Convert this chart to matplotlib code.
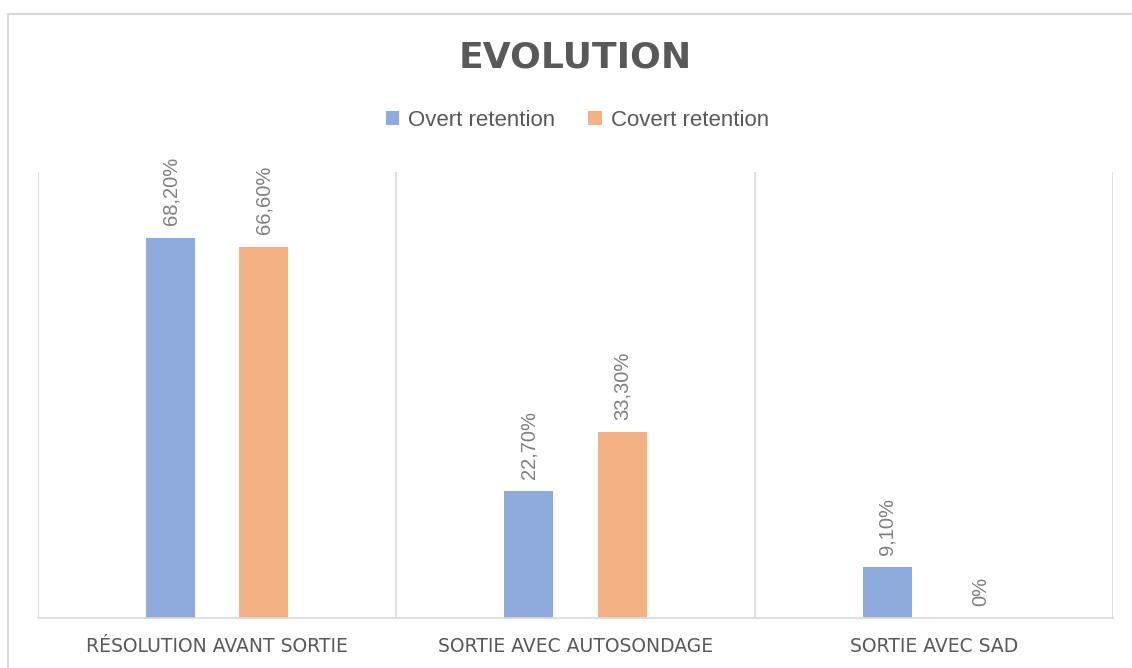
import numpy as np
import matplotlib.pyplot as plt
from matplotlib.lines import Line2D

categories = ["RÉSOLUTION AVANT SORTIE", "SORTIE AVEC AUTOSONDAGE", "SORTIE AVEC SAD"]
overt = [68.2, 22.7, 9.1]
covert = [66.6, 33.3, 0.0]
overt_labels = ["68,20%", "22,70%", "9,10%"]
covert_labels = ["66,60%", "33,30%", "0%"]

blue = "#8faadc"
orange = "#f4b183"
grid_c = "#d9d9d9"
text_c = "#595959"
label_c = "#7f7f7f"

plt.rcParams['font.family'] = ['Liberation Sans', 'DejaVu Sans']

fig = plt.figure(figsize=(11.32, 6.68), dpi=100)
ax = fig.add_axes([38 / 1132, 1 - 618 / 668, 1075 / 1132, 446 / 668])

x = np.arange(len(categories))
w = 0.137
off = 0.13
b1 = ax.bar(x - off, overt, w, color=blue, label="Overt retention")
b2 = ax.bar(x + off, covert, w, color=orange, label="Covert retention")

for bars, labs in ((b1, overt_labels), (b2, covert_labels)):
    for rect, lab in zip(bars, labs):
        ax.annotate(lab, (rect.get_x() + rect.get_width() / 2, rect.get_height()),
                    xytext=(0, 9), textcoords="offset points", rotation=90,
                    ha="center", va="bottom", fontsize=14.5, color=label_c)

ax.set_xlim(-0.5, 2.5)
ax.set_ylim(0, 80)
ax.set_yticks([])
ax.set_xticks(x)
ax.set_xticklabels(categories, fontsize=13.5, color=text_c, family="DejaVu Sans")
ax.tick_params(axis="x", length=0, pad=14)
for xs in [-0.5, 0.5, 1.5, 2.5]:
    ax.axvline(xs, color=grid_c, lw=1.2, zorder=0)
for s in ["top", "left", "right"]:
    ax.spines[s].set_visible(False)
ax.spines["bottom"].set_color(grid_c)
ax.spines["bottom"].set_linewidth(1.2)

fig.text(0.508, 1 - 57 / 668, "EVOLUTION", ha="center", va="center",
         fontsize=26, fontweight="bold", color=text_c, family="DejaVu Sans")

fig.legend(loc="center", bbox_to_anchor=(0.51, 1 - 120 / 668), ncol=2, frameon=False,
           fontsize=16, handlelength=0.6, handleheight=0.6, handletextpad=0.4,
           columnspacing=1.5, labelcolor=text_c)

# outer chart border
fig.add_artist(Line2D([8 / 1132, 8 / 1132], [0, 1 - 14 / 668], transform=fig.transFigure,
                      color=grid_c, lw=1.5))
fig.add_artist(Line2D([8 / 1132, 1], [1 - 14 / 668, 1 - 14 / 668], transform=fig.transFigure,
                      color=grid_c, lw=1.5))

fig.savefig("out.png", dpi=100)
